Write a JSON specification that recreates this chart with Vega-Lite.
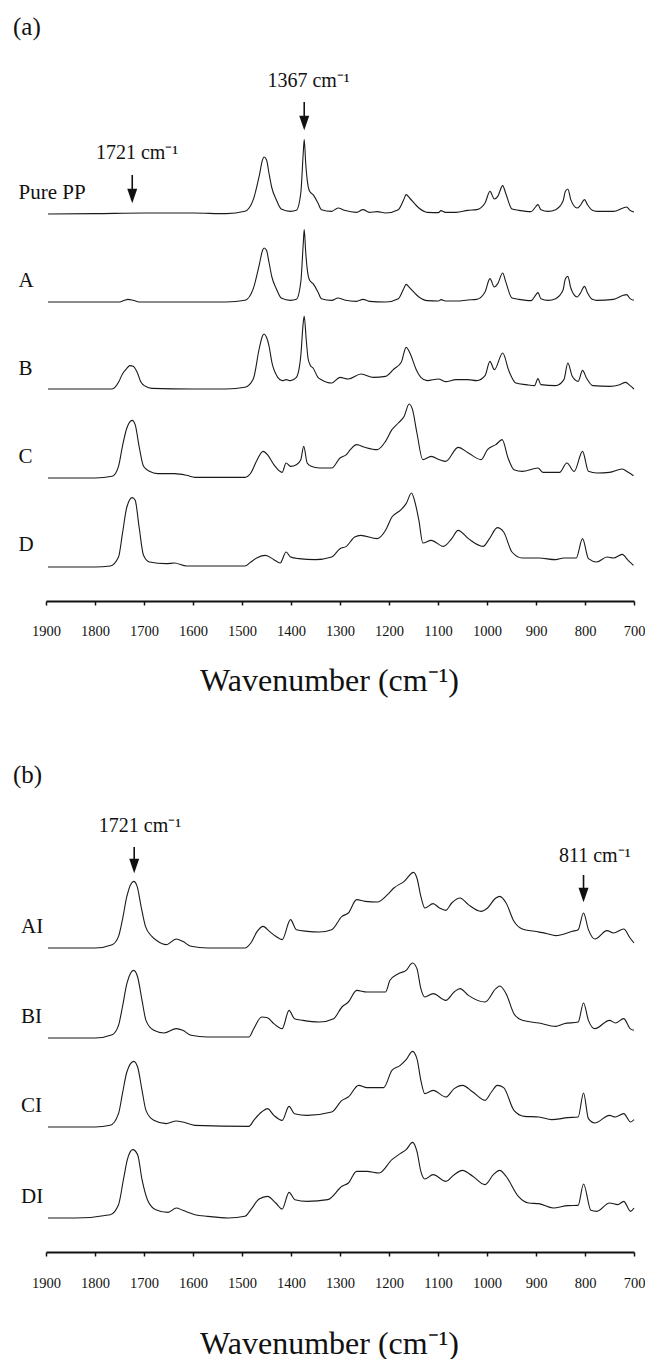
{
"$schema":"https://vega.github.io/schema/vega-lite/v6.json",
"padding":{"left":13,"top":10,"right":0,"bottom":0},
"autosize":{"type":"pad"},
"background":"white",
"config":{"view":{"stroke":null},"font":"Liberation Serif",
"axisX":{"grid":false,"domainColor":"#111","domainWidth":2,"tickColor":"#111","tickWidth":1.5,"tickSize":4,"labelFont":"Liberation Serif","labelFontSize":14.5,"labelColor":"#111","labelBaseline":"alphabetic","labelFlush":false,"labelOverlap":false,"titleFont":"Liberation Serif","titleFontSize":32,"titleFontWeight":"normal","titleColor":"#111","titleBaseline":"alphabetic","titleX":283}},
"datasets":{
"specA":[
{"s":"Pure PP","wn":1896,"v":1161},{"s":"Pure PP","wn":1800,"v":1162},{"s":"Pure PP","wn":1700,"v":1164},{"s":"Pure PP","wn":1600,"v":1164},{"s":"Pure PP","wn":1532,"v":1162},{"s":"Pure PP","wn":1494,"v":1169},{"s":"Pure PP","wn":1477,"v":1204},{"s":"Pure PP","wn":1465,"v":1274},{"s":"Pure PP","wn":1458,"v":1324},{"s":"Pure PP","wn":1455,"v":1332},{"s":"Pure PP","wn":1450,"v":1324},{"s":"Pure PP","wn":1445,"v":1284},{"s":"Pure PP","wn":1439,"v":1239},{"s":"Pure PP","wn":1430,"v":1204},{"s":"Pure PP","wn":1420,"v":1176},{"s":"Pure PP","wn":1401,"v":1169},{"s":"Pure PP","wn":1389,"v":1172},{"s":"Pure PP","wn":1380,"v":1224},{"s":"Pure PP","wn":1375,"v":1344},{"s":"Pure PP","wn":1373,"v":1384},{"s":"Pure PP","wn":1370,"v":1314},{"s":"Pure PP","wn":1367,"v":1264},{"s":"Pure PP","wn":1362,"v":1229},{"s":"Pure PP","wn":1355,"v":1219},{"s":"Pure PP","wn":1345,"v":1194},{"s":"Pure PP","wn":1338,"v":1174},{"s":"Pure PP","wn":1317,"v":1169},{"s":"Pure PP","wn":1304,"v":1179},{"s":"Pure PP","wn":1291,"v":1172},{"s":"Pure PP","wn":1266,"v":1166},{"s":"Pure PP","wn":1253,"v":1174},{"s":"Pure PP","wn":1240,"v":1166},{"s":"Pure PP","wn":1224,"v":1168},{"s":"Pure PP","wn":1207,"v":1164},{"s":"Pure PP","wn":1181,"v":1174},{"s":"Pure PP","wn":1170,"v":1204},{"s":"Pure PP","wn":1165,"v":1219},{"s":"Pure PP","wn":1158,"v":1209},{"s":"Pure PP","wn":1139,"v":1179},{"s":"Pure PP","wn":1122,"v":1166},{"s":"Pure PP","wn":1099,"v":1165},{"s":"Pure PP","wn":1094,"v":1171},{"s":"Pure PP","wn":1085,"v":1166},{"s":"Pure PP","wn":1063,"v":1166},{"s":"Pure PP","wn":1039,"v":1172},{"s":"Pure PP","wn":1021,"v":1174},{"s":"Pure PP","wn":1004,"v":1194},{"s":"Pure PP","wn":994,"v":1229},{"s":"Pure PP","wn":985,"v":1206},{"s":"Pure PP","wn":978,"v":1214},{"s":"Pure PP","wn":968,"v":1246},{"s":"Pure PP","wn":962,"v":1224},{"s":"Pure PP","wn":949,"v":1176},{"s":"Pure PP","wn":935,"v":1172},{"s":"Pure PP","wn":910,"v":1168},{"s":"Pure PP","wn":900,"v":1184},{"s":"Pure PP","wn":896,"v":1189},{"s":"Pure PP","wn":890,"v":1174},{"s":"Pure PP","wn":875,"v":1169},{"s":"Pure PP","wn":860,"v":1174},{"s":"Pure PP","wn":845,"v":1199},{"s":"Pure PP","wn":840,"v":1229},{"s":"Pure PP","wn":835,"v":1236},{"s":"Pure PP","wn":829,"v":1204},{"s":"Pure PP","wn":816,"v":1179},{"s":"Pure PP","wn":810,"v":1186},{"s":"Pure PP","wn":801,"v":1204},{"s":"Pure PP","wn":795,"v":1189},{"s":"Pure PP","wn":785,"v":1172},{"s":"Pure PP","wn":776,"v":1169},{"s":"Pure PP","wn":742,"v":1169},{"s":"Pure PP","wn":722,"v":1179},{"s":"Pure PP","wn":715,"v":1182},{"s":"Pure PP","wn":708,"v":1172},{"s":"Pure PP","wn":700,"v":1167},
{"s":"A","wn":1896,"v":897},{"s":"A","wn":1800,"v":897},{"s":"A","wn":1750,"v":897},{"s":"A","wn":1740,"v":902},{"s":"A","wn":1733,"v":905},{"s":"A","wn":1722,"v":902},{"s":"A","wn":1710,"v":897},{"s":"A","wn":1600,"v":897},{"s":"A","wn":1532,"v":897},{"s":"A","wn":1494,"v":902},{"s":"A","wn":1477,"v":937},{"s":"A","wn":1465,"v":1007},{"s":"A","wn":1458,"v":1052},{"s":"A","wn":1455,"v":1059},{"s":"A","wn":1450,"v":1052},{"s":"A","wn":1445,"v":1017},{"s":"A","wn":1439,"v":972},{"s":"A","wn":1430,"v":937},{"s":"A","wn":1420,"v":909},{"s":"A","wn":1401,"v":902},{"s":"A","wn":1389,"v":905},{"s":"A","wn":1380,"v":957},{"s":"A","wn":1375,"v":1072},{"s":"A","wn":1373,"v":1114},{"s":"A","wn":1370,"v":1047},{"s":"A","wn":1367,"v":997},{"s":"A","wn":1362,"v":962},{"s":"A","wn":1355,"v":952},{"s":"A","wn":1345,"v":927},{"s":"A","wn":1338,"v":907},{"s":"A","wn":1317,"v":902},{"s":"A","wn":1304,"v":909},{"s":"A","wn":1291,"v":903},{"s":"A","wn":1266,"v":899},{"s":"A","wn":1253,"v":905},{"s":"A","wn":1240,"v":899},{"s":"A","wn":1207,"v":897},{"s":"A","wn":1181,"v":907},{"s":"A","wn":1170,"v":937},{"s":"A","wn":1165,"v":950},{"s":"A","wn":1158,"v":940},{"s":"A","wn":1139,"v":912},{"s":"A","wn":1122,"v":901},{"s":"A","wn":1099,"v":900},{"s":"A","wn":1094,"v":904},{"s":"A","wn":1085,"v":900},{"s":"A","wn":1063,"v":900},{"s":"A","wn":1039,"v":903},{"s":"A","wn":1021,"v":905},{"s":"A","wn":1004,"v":927},{"s":"A","wn":994,"v":967},{"s":"A","wn":985,"v":942},{"s":"A","wn":978,"v":952},{"s":"A","wn":968,"v":984},{"s":"A","wn":962,"v":959},{"s":"A","wn":949,"v":909},{"s":"A","wn":935,"v":905},{"s":"A","wn":910,"v":901},{"s":"A","wn":900,"v":919},{"s":"A","wn":896,"v":925},{"s":"A","wn":890,"v":907},{"s":"A","wn":875,"v":902},{"s":"A","wn":860,"v":907},{"s":"A","wn":845,"v":932},{"s":"A","wn":840,"v":967},{"s":"A","wn":835,"v":974},{"s":"A","wn":829,"v":939},{"s":"A","wn":816,"v":912},{"s":"A","wn":810,"v":922},{"s":"A","wn":801,"v":944},{"s":"A","wn":795,"v":925},{"s":"A","wn":785,"v":905},{"s":"A","wn":776,"v":902},{"s":"A","wn":742,"v":905},{"s":"A","wn":722,"v":917},{"s":"A","wn":715,"v":919},{"s":"A","wn":708,"v":907},{"s":"A","wn":700,"v":902},
{"s":"B","wn":1896,"v":636},{"s":"B","wn":1800,"v":636},{"s":"B","wn":1765,"v":636},{"s":"B","wn":1752,"v":656},{"s":"B","wn":1744,"v":681},{"s":"B","wn":1735,"v":698},{"s":"B","wn":1729,"v":706},{"s":"B","wn":1722,"v":704},{"s":"B","wn":1714,"v":686},{"s":"B","wn":1706,"v":656},{"s":"B","wn":1697,"v":644},{"s":"B","wn":1684,"v":638},{"s":"B","wn":1600,"v":636},{"s":"B","wn":1532,"v":636},{"s":"B","wn":1494,"v":641},{"s":"B","wn":1477,"v":666},{"s":"B","wn":1465,"v":756},{"s":"B","wn":1458,"v":796},{"s":"B","wn":1455,"v":801},{"s":"B","wn":1450,"v":791},{"s":"B","wn":1445,"v":766},{"s":"B","wn":1439,"v":716},{"s":"B","wn":1427,"v":671},{"s":"B","wn":1418,"v":661},{"s":"B","wn":1410,"v":664},{"s":"B","wn":1401,"v":661},{"s":"B","wn":1389,"v":671},{"s":"B","wn":1380,"v":736},{"s":"B","wn":1375,"v":836},{"s":"B","wn":1373,"v":854},{"s":"B","wn":1369,"v":786},{"s":"B","wn":1365,"v":726},{"s":"B","wn":1360,"v":706},{"s":"B","wn":1355,"v":699},{"s":"B","wn":1345,"v":671},{"s":"B","wn":1338,"v":664},{"s":"B","wn":1317,"v":654},{"s":"B","wn":1300,"v":671},{"s":"B","wn":1283,"v":666},{"s":"B","wn":1257,"v":681},{"s":"B","wn":1232,"v":671},{"s":"B","wn":1207,"v":674},{"s":"B","wn":1190,"v":696},{"s":"B","wn":1175,"v":716},{"s":"B","wn":1165,"v":761},{"s":"B","wn":1155,"v":736},{"s":"B","wn":1145,"v":696},{"s":"B","wn":1135,"v":671},{"s":"B","wn":1122,"v":661},{"s":"B","wn":1099,"v":666},{"s":"B","wn":1085,"v":658},{"s":"B","wn":1063,"v":664},{"s":"B","wn":1039,"v":664},{"s":"B","wn":1021,"v":661},{"s":"B","wn":1004,"v":676},{"s":"B","wn":994,"v":719},{"s":"B","wn":985,"v":694},{"s":"B","wn":968,"v":744},{"s":"B","wn":955,"v":689},{"s":"B","wn":941,"v":654},{"s":"B","wn":920,"v":649},{"s":"B","wn":903,"v":646},{"s":"B","wn":896,"v":667},{"s":"B","wn":890,"v":649},{"s":"B","wn":860,"v":646},{"s":"B","wn":843,"v":664},{"s":"B","wn":835,"v":714},{"s":"B","wn":826,"v":674},{"s":"B","wn":814,"v":659},{"s":"B","wn":805,"v":692},{"s":"B","wn":797,"v":669},{"s":"B","wn":784,"v":646},{"s":"B","wn":750,"v":644},{"s":"B","wn":729,"v":649},{"s":"B","wn":717,"v":656},{"s":"B","wn":708,"v":646},{"s":"B","wn":700,"v":636},
{"s":"C","wn":1896,"v":369},{"s":"C","wn":1800,"v":369},{"s":"C","wn":1765,"v":374},{"s":"C","wn":1752,"v":404},{"s":"C","wn":1744,"v":464},{"s":"C","wn":1735,"v":519},{"s":"C","wn":1724,"v":542},{"s":"C","wn":1718,"v":529},{"s":"C","wn":1710,"v":464},{"s":"C","wn":1701,"v":404},{"s":"C","wn":1689,"v":389},{"s":"C","wn":1672,"v":382},{"s":"C","wn":1638,"v":382},{"s":"C","wn":1613,"v":377},{"s":"C","wn":1596,"v":371},{"s":"C","wn":1494,"v":371},{"s":"C","wn":1482,"v":384},{"s":"C","wn":1469,"v":424},{"s":"C","wn":1457,"v":449},{"s":"C","wn":1448,"v":439},{"s":"C","wn":1435,"v":409},{"s":"C","wn":1418,"v":386},{"s":"C","wn":1410,"v":414},{"s":"C","wn":1401,"v":404},{"s":"C","wn":1389,"v":409},{"s":"C","wn":1380,"v":424},{"s":"C","wn":1374,"v":464},{"s":"C","wn":1367,"v":414},{"s":"C","wn":1359,"v":404},{"s":"C","wn":1342,"v":399},{"s":"C","wn":1317,"v":399},{"s":"C","wn":1300,"v":429},{"s":"C","wn":1287,"v":439},{"s":"C","wn":1279,"v":454},{"s":"C","wn":1266,"v":469},{"s":"C","wn":1249,"v":461},{"s":"C","wn":1224,"v":454},{"s":"C","wn":1207,"v":479},{"s":"C","wn":1194,"v":514},{"s":"C","wn":1181,"v":534},{"s":"C","wn":1169,"v":554},{"s":"C","wn":1159,"v":591},{"s":"C","wn":1152,"v":574},{"s":"C","wn":1143,"v":504},{"s":"C","wn":1131,"v":424},{"s":"C","wn":1114,"v":434},{"s":"C","wn":1097,"v":424},{"s":"C","wn":1084,"v":419},{"s":"C","wn":1059,"v":461},{"s":"C","wn":1038,"v":444},{"s":"C","wn":1012,"v":424},{"s":"C","wn":999,"v":454},{"s":"C","wn":982,"v":469},{"s":"C","wn":969,"v":484},{"s":"C","wn":957,"v":429},{"s":"C","wn":945,"v":394},{"s":"C","wn":928,"v":389},{"s":"C","wn":896,"v":399},{"s":"C","wn":886,"v":386},{"s":"C","wn":852,"v":386},{"s":"C","wn":837,"v":414},{"s":"C","wn":822,"v":389},{"s":"C","wn":805,"v":449},{"s":"C","wn":793,"v":389},{"s":"C","wn":776,"v":384},{"s":"C","wn":750,"v":386},{"s":"C","wn":724,"v":396},{"s":"C","wn":712,"v":386},{"s":"C","wn":701,"v":376},
{"s":"D","wn":1896,"v":102},{"s":"D","wn":1800,"v":102},{"s":"D","wn":1769,"v":105},{"s":"D","wn":1752,"v":132},{"s":"D","wn":1744,"v":202},{"s":"D","wn":1735,"v":282},{"s":"D","wn":1724,"v":310},{"s":"D","wn":1718,"v":302},{"s":"D","wn":1710,"v":222},{"s":"D","wn":1701,"v":137},{"s":"D","wn":1689,"v":117},{"s":"D","wn":1655,"v":112},{"s":"D","wn":1638,"v":114},{"s":"D","wn":1613,"v":105},{"s":"D","wn":1494,"v":105},{"s":"D","wn":1482,"v":117},{"s":"D","wn":1469,"v":130},{"s":"D","wn":1452,"v":137},{"s":"D","wn":1435,"v":124},{"s":"D","wn":1422,"v":114},{"s":"D","wn":1410,"v":147},{"s":"D","wn":1401,"v":132},{"s":"D","wn":1384,"v":127},{"s":"D","wn":1351,"v":124},{"s":"D","wn":1317,"v":132},{"s":"D","wn":1300,"v":157},{"s":"D","wn":1287,"v":164},{"s":"D","wn":1270,"v":192},{"s":"D","wn":1258,"v":197},{"s":"D","wn":1224,"v":187},{"s":"D","wn":1207,"v":212},{"s":"D","wn":1194,"v":252},{"s":"D","wn":1177,"v":272},{"s":"D","wn":1165,"v":292},{"s":"D","wn":1154,"v":324},{"s":"D","wn":1148,"v":302},{"s":"D","wn":1139,"v":242},{"s":"D","wn":1131,"v":174},{"s":"D","wn":1114,"v":182},{"s":"D","wn":1089,"v":164},{"s":"D","wn":1072,"v":187},{"s":"D","wn":1059,"v":212},{"s":"D","wn":1038,"v":187},{"s":"D","wn":1008,"v":164},{"s":"D","wn":995,"v":187},{"s":"D","wn":979,"v":220},{"s":"D","wn":966,"v":207},{"s":"D","wn":949,"v":147},{"s":"D","wn":928,"v":129},{"s":"D","wn":894,"v":129},{"s":"D","wn":860,"v":124},{"s":"D","wn":843,"v":129},{"s":"D","wn":818,"v":129},{"s":"D","wn":805,"v":187},{"s":"D","wn":793,"v":127},{"s":"D","wn":776,"v":117},{"s":"D","wn":755,"v":132},{"s":"D","wn":742,"v":129},{"s":"D","wn":724,"v":140},{"s":"D","wn":712,"v":122},{"s":"D","wn":701,"v":107}
],
"specB":[
{"s":"AI","wn":1896,"v":912},{"s":"AI","wn":1800,"v":912},{"s":"AI","wn":1765,"v":922},{"s":"AI","wn":1752,"v":947},{"s":"AI","wn":1744,"v":997},{"s":"AI","wn":1735,"v":1067},{"s":"AI","wn":1721,"v":1112},{"s":"AI","wn":1714,"v":1097},{"s":"AI","wn":1706,"v":1037},{"s":"AI","wn":1697,"v":977},{"s":"AI","wn":1684,"v":947},{"s":"AI","wn":1672,"v":932},{"s":"AI","wn":1655,"v":922},{"s":"AI","wn":1634,"v":939},{"s":"AI","wn":1621,"v":932},{"s":"AI","wn":1604,"v":917},{"s":"AI","wn":1570,"v":912},{"s":"AI","wn":1494,"v":912},{"s":"AI","wn":1482,"v":927},{"s":"AI","wn":1469,"v":962},{"s":"AI","wn":1457,"v":977},{"s":"AI","wn":1444,"v":962},{"s":"AI","wn":1431,"v":947},{"s":"AI","wn":1418,"v":937},{"s":"AI","wn":1401,"v":997},{"s":"AI","wn":1389,"v":967},{"s":"AI","wn":1367,"v":962},{"s":"AI","wn":1342,"v":960},{"s":"AI","wn":1317,"v":967},{"s":"AI","wn":1296,"v":1007},{"s":"AI","wn":1283,"v":1017},{"s":"AI","wn":1266,"v":1057},{"s":"AI","wn":1249,"v":1052},{"s":"AI","wn":1224,"v":1050},{"s":"AI","wn":1203,"v":1072},{"s":"AI","wn":1190,"v":1092},{"s":"AI","wn":1169,"v":1112},{"s":"AI","wn":1150,"v":1139},{"s":"AI","wn":1143,"v":1122},{"s":"AI","wn":1135,"v":1067},{"s":"AI","wn":1127,"v":1032},{"s":"AI","wn":1110,"v":1045},{"s":"AI","wn":1097,"v":1032},{"s":"AI","wn":1084,"v":1025},{"s":"AI","wn":1072,"v":1047},{"s":"AI","wn":1055,"v":1062},{"s":"AI","wn":1038,"v":1042},{"s":"AI","wn":1012,"v":1022},{"s":"AI","wn":999,"v":1032},{"s":"AI","wn":982,"v":1062},{"s":"AI","wn":974,"v":1067},{"s":"AI","wn":961,"v":1047},{"s":"AI","wn":945,"v":992},{"s":"AI","wn":928,"v":969},{"s":"AI","wn":903,"v":962},{"s":"AI","wn":877,"v":955},{"s":"AI","wn":860,"v":949},{"s":"AI","wn":826,"v":962},{"s":"AI","wn":814,"v":967},{"s":"AI","wn":803,"v":1017},{"s":"AI","wn":793,"v":967},{"s":"AI","wn":780,"v":939},{"s":"AI","wn":755,"v":964},{"s":"AI","wn":742,"v":957},{"s":"AI","wn":721,"v":969},{"s":"AI","wn":708,"v":942},{"s":"AI","wn":700,"v":927},
{"s":"BI","wn":1896,"v":642},{"s":"BI","wn":1800,"v":642},{"s":"BI","wn":1765,"v":652},{"s":"BI","wn":1752,"v":680},{"s":"BI","wn":1744,"v":735},{"s":"BI","wn":1735,"v":805},{"s":"BI","wn":1721,"v":845},{"s":"BI","wn":1713,"v":825},{"s":"BI","wn":1704,"v":755},{"s":"BI","wn":1696,"v":695},{"s":"BI","wn":1680,"v":665},{"s":"BI","wn":1659,"v":657},{"s":"BI","wn":1634,"v":670},{"s":"BI","wn":1621,"v":665},{"s":"BI","wn":1604,"v":650},{"s":"BI","wn":1570,"v":645},{"s":"BI","wn":1486,"v":645},{"s":"BI","wn":1476,"v":670},{"s":"BI","wn":1460,"v":705},{"s":"BI","wn":1448,"v":703},{"s":"BI","wn":1435,"v":685},{"s":"BI","wn":1418,"v":670},{"s":"BI","wn":1404,"v":725},{"s":"BI","wn":1393,"v":700},{"s":"BI","wn":1376,"v":695},{"s":"BI","wn":1342,"v":690},{"s":"BI","wn":1313,"v":700},{"s":"BI","wn":1296,"v":735},{"s":"BI","wn":1283,"v":750},{"s":"BI","wn":1266,"v":785},{"s":"BI","wn":1245,"v":780},{"s":"BI","wn":1207,"v":780},{"s":"BI","wn":1198,"v":815},{"s":"BI","wn":1181,"v":835},{"s":"BI","wn":1165,"v":845},{"s":"BI","wn":1152,"v":867},{"s":"BI","wn":1143,"v":850},{"s":"BI","wn":1135,"v":790},{"s":"BI","wn":1127,"v":765},{"s":"BI","wn":1110,"v":775},{"s":"BI","wn":1084,"v":755},{"s":"BI","wn":1067,"v":780},{"s":"BI","wn":1055,"v":790},{"s":"BI","wn":1038,"v":770},{"s":"BI","wn":1004,"v":750},{"s":"BI","wn":982,"v":790},{"s":"BI","wn":974,"v":798},{"s":"BI","wn":961,"v":775},{"s":"BI","wn":945,"v":715},{"s":"BI","wn":928,"v":695},{"s":"BI","wn":894,"v":687},{"s":"BI","wn":860,"v":677},{"s":"BI","wn":843,"v":685},{"s":"BI","wn":814,"v":690},{"s":"BI","wn":803,"v":747},{"s":"BI","wn":793,"v":695},{"s":"BI","wn":780,"v":670},{"s":"BI","wn":750,"v":695},{"s":"BI","wn":738,"v":687},{"s":"BI","wn":721,"v":700},{"s":"BI","wn":708,"v":670},{"s":"BI","wn":700,"v":665},
{"s":"CI","wn":1896,"v":375},{"s":"CI","wn":1800,"v":375},{"s":"CI","wn":1769,"v":380},{"s":"CI","wn":1752,"v":415},{"s":"CI","wn":1744,"v":475},{"s":"CI","wn":1735,"v":540},{"s":"CI","wn":1721,"v":572},{"s":"CI","wn":1713,"v":555},{"s":"CI","wn":1704,"v":485},{"s":"CI","wn":1696,"v":425},{"s":"CI","wn":1680,"v":395},{"s":"CI","wn":1655,"v":385},{"s":"CI","wn":1634,"v":393},{"s":"CI","wn":1621,"v":390},{"s":"CI","wn":1596,"v":380},{"s":"CI","wn":1486,"v":377},{"s":"CI","wn":1476,"v":395},{"s":"CI","wn":1460,"v":420},{"s":"CI","wn":1448,"v":430},{"s":"CI","wn":1435,"v":410},{"s":"CI","wn":1418,"v":395},{"s":"CI","wn":1404,"v":437},{"s":"CI","wn":1393,"v":415},{"s":"CI","wn":1367,"v":410},{"s":"CI","wn":1317,"v":420},{"s":"CI","wn":1296,"v":455},{"s":"CI","wn":1283,"v":465},{"s":"CI","wn":1262,"v":500},{"s":"CI","wn":1245,"v":493},{"s":"CI","wn":1211,"v":493},{"s":"CI","wn":1194,"v":545},{"s":"CI","wn":1177,"v":560},{"s":"CI","wn":1165,"v":577},{"s":"CI","wn":1152,"v":602},{"s":"CI","wn":1143,"v":580},{"s":"CI","wn":1135,"v":515},{"s":"CI","wn":1127,"v":475},{"s":"CI","wn":1110,"v":485},{"s":"CI","wn":1084,"v":465},{"s":"CI","wn":1067,"v":490},{"s":"CI","wn":1050,"v":500},{"s":"CI","wn":1029,"v":480},{"s":"CI","wn":1004,"v":455},{"s":"CI","wn":991,"v":480},{"s":"CI","wn":979,"v":500},{"s":"CI","wn":966,"v":493},{"s":"CI","wn":945,"v":425},{"s":"CI","wn":924,"v":407},{"s":"CI","wn":894,"v":405},{"s":"CI","wn":868,"v":397},{"s":"CI","wn":835,"v":403},{"s":"CI","wn":814,"v":405},{"s":"CI","wn":803,"v":477},{"s":"CI","wn":793,"v":400},{"s":"CI","wn":780,"v":387},{"s":"CI","wn":750,"v":410},{"s":"CI","wn":738,"v":405},{"s":"CI","wn":721,"v":415},{"s":"CI","wn":707,"v":390},{"s":"CI","wn":700,"v":397},
{"s":"DI","wn":1896,"v":102},{"s":"DI","wn":1841,"v":102},{"s":"DI","wn":1769,"v":112},{"s":"DI","wn":1752,"v":142},{"s":"DI","wn":1742,"v":217},{"s":"DI","wn":1734,"v":277},{"s":"DI","wn":1723,"v":307},{"s":"DI","wn":1713,"v":292},{"s":"DI","wn":1704,"v":217},{"s":"DI","wn":1693,"v":157},{"s":"DI","wn":1676,"v":127},{"s":"DI","wn":1651,"v":119},{"s":"DI","wn":1634,"v":132},{"s":"DI","wn":1621,"v":125},{"s":"DI","wn":1596,"v":112},{"s":"DI","wn":1570,"v":107},{"s":"DI","wn":1528,"v":102},{"s":"DI","wn":1494,"v":107},{"s":"DI","wn":1482,"v":127},{"s":"DI","wn":1465,"v":159},{"s":"DI","wn":1448,"v":167},{"s":"DI","wn":1431,"v":147},{"s":"DI","wn":1418,"v":129},{"s":"DI","wn":1404,"v":179},{"s":"DI","wn":1392,"v":157},{"s":"DI","wn":1367,"v":152},{"s":"DI","wn":1325,"v":157},{"s":"DI","wn":1296,"v":197},{"s":"DI","wn":1283,"v":207},{"s":"DI","wn":1266,"v":242},{"s":"DI","wn":1245,"v":242},{"s":"DI","wn":1220,"v":237},{"s":"DI","wn":1194,"v":277},{"s":"DI","wn":1177,"v":295},{"s":"DI","wn":1165,"v":307},{"s":"DI","wn":1152,"v":329},{"s":"DI","wn":1143,"v":302},{"s":"DI","wn":1135,"v":242},{"s":"DI","wn":1127,"v":219},{"s":"DI","wn":1110,"v":232},{"s":"DI","wn":1084,"v":212},{"s":"DI","wn":1067,"v":232},{"s":"DI","wn":1050,"v":245},{"s":"DI","wn":1029,"v":227},{"s":"DI","wn":1004,"v":202},{"s":"DI","wn":987,"v":232},{"s":"DI","wn":974,"v":245},{"s":"DI","wn":961,"v":227},{"s":"DI","wn":936,"v":167},{"s":"DI","wn":915,"v":147},{"s":"DI","wn":894,"v":145},{"s":"DI","wn":865,"v":132},{"s":"DI","wn":835,"v":139},{"s":"DI","wn":814,"v":140},{"s":"DI","wn":803,"v":204},{"s":"DI","wn":788,"v":125},{"s":"DI","wn":776,"v":122},{"s":"DI","wn":750,"v":147},{"s":"DI","wn":733,"v":142},{"s":"DI","wn":721,"v":152},{"s":"DI","wn":707,"v":122},{"s":"DI","wn":700,"v":132}
],
"arrowsA":[{"wn":1373,"v":1497,"v2":1434},{"wn":1724,"v":1278,"v2":1215}],
"arrowsB":[{"wn":1720,"v":1215,"v2":1158},{"wn":803,"v":1131,"v2":1071}],
"annA":[{"wn":1364,"v":1542,"t":"1367 cm⁻¹"},{"wn":1714,"v":1326,"t":"1721 cm⁻¹"}],
"annB":[{"wn":1708,"v":1260,"t":"1721 cm⁻¹"},{"wn":780,"v":1170,"t":"811 cm⁻¹"}],
"labA":[{"wn":1956,"v":1206,"t":"Pure PP"},{"wn":1956,"v":942,"t":"A"},{"wn":1956,"v":678,"t":"B"},{"wn":1956,"v":414,"t":"C"},{"wn":1956,"v":150,"t":"D"}],
"labB":[{"wn":1951,"v":957,"t":"AI"},{"wn":1951,"v":687,"t":"BI"},{"wn":1951,"v":420,"t":"CI"},{"wn":1951,"v":147,"t":"DI"}],
"panA":[{"wn":1967.3,"v":1698,"t":"(a)"}],
"panB":[{"wn":1967.3,"v":1407,"t":"(b)"}]
},
"vconcat":[
{"width":588,"height":591,
"encoding":{
"x":{"field":"wn","type":"quantitative","scale":{"domain":[700,1900],"reverse":true,"nice":false,"zero":false},"axis":{"values":[1900,1800,1700,1600,1500,1400,1300,1200,1100,1000,900,800,700],"format":"d","title":"Wavenumber (cm⁻¹)","titleY":89,"labelPadding":30}},
"y":{"field":"v","type":"quantitative","scale":{"domain":[0,1773],"nice":false,"zero":false},"axis":null}},
"layer":[
{"data":{"name":"specA"},"mark":{"type":"line","interpolate":"monotone","color":"#1a1a1a","strokeWidth":1.1},"encoding":{"detail":{"field":"s"}}},
{"data":{"name":"arrowsA"},"mark":{"type":"rule","color":"#111","strokeWidth":1.6},"encoding":{"y2":{"field":"v2"}}},
{"data":{"name":"arrowsA"},"mark":{"type":"point","shape":"M-0.7,-1L0.7,-1L0,1Z","filled":true,"size":204,"color":"#111","opacity":1,"strokeWidth":0},"encoding":{"y":{"field":"v2","type":"quantitative"}}},
{"data":{"name":"annA"},"mark":{"type":"text","fontSize":20,"align":"center","baseline":"alphabetic","color":"#111"},"encoding":{"text":{"field":"t"}}},
{"data":{"name":"labA"},"mark":{"type":"text","fontSize":21,"align":"left","baseline":"alphabetic","color":"#111"},"encoding":{"text":{"field":"t"}}},
{"data":{"name":"panA"},"mark":{"type":"text","fontSize":25,"align":"left","baseline":"alphabetic","color":"#111"},"encoding":{"text":{"field":"t"}}}
]},
{"width":588,"height":542,
"encoding":{
"x":{"field":"wn","type":"quantitative","scale":{"domain":[700,1900],"reverse":true,"nice":false,"zero":false},"axis":{"values":[1900,1800,1700,1600,1500,1400,1300,1200,1100,1000,900,800,700],"format":"d","title":"Wavenumber (cm⁻¹)","titleY":101,"labelPadding":31}},
"y":{"field":"v","type":"quantitative","scale":{"domain":[0,1626],"nice":false,"zero":false},"axis":null}},
"layer":[
{"data":{"name":"specB"},"mark":{"type":"line","interpolate":"monotone","color":"#1a1a1a","strokeWidth":1.1},"encoding":{"detail":{"field":"s"}}},
{"data":{"name":"arrowsB"},"mark":{"type":"rule","color":"#111","strokeWidth":1.6},"encoding":{"y2":{"field":"v2"}}},
{"data":{"name":"arrowsB"},"mark":{"type":"point","shape":"M-0.7,-1L0.7,-1L0,1Z","filled":true,"size":204,"color":"#111","opacity":1,"strokeWidth":0},"encoding":{"y":{"field":"v2","type":"quantitative"}}},
{"data":{"name":"annB"},"mark":{"type":"text","fontSize":20,"align":"center","baseline":"alphabetic","color":"#111"},"encoding":{"text":{"field":"t"}}},
{"data":{"name":"labB"},"mark":{"type":"text","fontSize":21,"align":"left","baseline":"alphabetic","color":"#111"},"encoding":{"text":{"field":"t"}}},
{"data":{"name":"panB"},"mark":{"type":"text","fontSize":25,"align":"left","baseline":"alphabetic","color":"#111"},"encoding":{"text":{"field":"t"}}}
]}
],
"spacing":109,
"bounds":"flush",
"resolve":{"scale":{"x":"independent","y":"independent"}}
}
